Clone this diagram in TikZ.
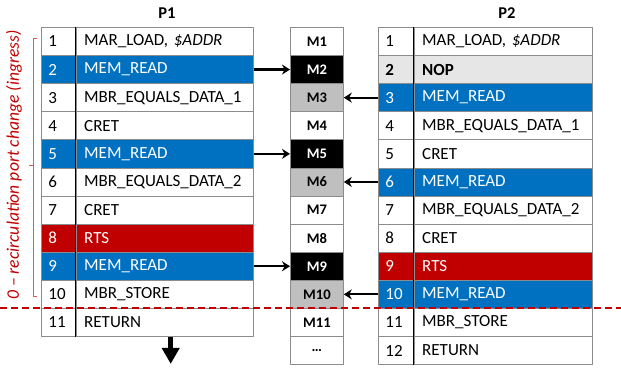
\documentclass[tikz,border=0pt]{standalone}
\usepackage{fontspec}
\setmainfont{Carlito}
\usetikzlibrary{arrows.meta}
\definecolor{opblue}{HTML}{0070C0}
\definecolor{opred}{HTML}{C00000}
\definecolor{nopgray}{HTML}{E7E6E6}
\definecolor{memgray}{HTML}{BFBFBF}
\definecolor{gridgray}{HTML}{8C8C8C}
\definecolor{bracered}{HTML}{E05A5A}

\tikzset{
	cell/.style={draw=gridgray, line width=0.8pt, minimum height=28.1pt, inner ysep=0pt, anchor=north west, align=left, font=\fontsize{17}{18}\selectfont},
	idx/.style={cell, text width=20pt, inner xsep=7pt},
	ins/.style={cell, text width=161pt, inner xsep=8pt},
	mcell/.style={cell, align=center, minimum width=53pt, inner xsep=0pt, font=\fontsize{14.6}{16}\selectfont\bfseries},
	link/.style={-{Stealth[length=8pt,width=10pt]}, line width=2.2pt},
}

\begin{document}
\begin{tikzpicture}[x=1pt, y=-1pt, line join=round]
	\useasboundingbox (0,0) rectangle (621,369);
	% program P1
	\node[font=\fontsize{16.5}{18}\selectfont\bfseries] (t1) at (167,13) {P1};
	\foreach \i/\op/\bg/\fg in {1/{MAR\_LOAD, \textit{\$ADDR}}/white/black, 2/MEM\_READ/opblue/white, 3/MBR\_EQUALS\_DATA\_1/white/black, 4/CRET/white/black, 5/MEM\_READ/opblue/white, 6/MBR\_EQUALS\_DATA\_2/white/black, 7/CRET/white/black, 8/RTS/opred/white, 9/MEM\_READ/opblue/white, 10/MBR\_STORE/white/black, 11/RETURN/white/black}
	{
		\node[idx, fill=\bg, text=\fg] (p1a\i) at (41,{27+(\i-1)*28.1}) {\i};
		\node[ins, fill=\bg, text=\fg] (p1b\i) at (p1a\i.north east) {\op};
	}
	\draw[line width=0.8pt] (p1a1.north east) -- (p1a11.south east);

	% memory slots
	\foreach \i/\lbl/\bg/\fg in {1/M1/white/black, 2/M2/black/white, 3/M3/memgray/black, 4/M4/white/black, 5/M5/black/white, 6/M6/memgray/black, 7/M7/white/black, 8/M8/white/black, 9/M9/black/white, 10/M10/memgray/black, 11/M11/white/black, 12/\ldots/white/black}
		\node[mcell, fill=\bg, text=\fg] (m\i) at (290,{27+(\i-1)*28.1}) {\lbl};

	% program P2
	\node[font=\fontsize{16.5}{18}\selectfont\bfseries] (t2) at (507,13) {P2};
	\foreach \i/\op/\bg/\fg in {1/{MAR\_LOAD, \textit{\$ADDR}}/white/black, 2/\textbf{NOP}/nopgray/black, 3/MEM\_READ/opblue/white, 4/MBR\_EQUALS\_DATA\_1/white/black, 5/CRET/white/black, 6/MEM\_READ/opblue/white, 7/MBR\_EQUALS\_DATA\_2/white/black, 8/CRET/white/black, 9/RTS/opred/white, 10/MEM\_READ/opblue/white, 11/MBR\_STORE/white/black, 12/RETURN/white/black}
	{
		\node[idx, text width=21pt, fill=\bg, text=\fg] (p2a\i) at (378,{27+(\i-1)*28.1}) {\ifnum\i=2 \textbf{\i}\else\i\fi};
		\node[ins, text width=162pt, fill=\bg, text=\fg] (p2b\i) at (p2a\i.north east) {\op};
	}
	\draw[line width=0.8pt] (p2a1.north east) -- (p2a12.south east);

	% memory accesses
	\foreach \i in {2,5,9}
		\draw[link] (p1b\i.east) -- (m\i.west);
	\foreach \i in {3,6,10}
		\draw[link] (p2a\i.west) -- (m\i.east);

	% P1 continues
	\draw[-{Triangle[length=16pt,width=17pt]}, line width=5pt] ([xshift=6pt]p1b11.south) -- ++(0,27);

	% ingress boundary
	\draw[opred, line width=2pt, dash pattern=on 7pt off 4pt] (0,{27+10*28.1}) -- (621,{27+10*28.1});

	% recirculation bracket
	\draw[bracered, line width=0.6pt] (37,38) -- (33,38) -- (33,296) -- (37,296)
		(33,165) -- (29,165);
	\node[rotate=90, text=opred, font=\fontsize{17.6}{19}\selectfont\itshape] (rlbl) at (14,165) {0 -- recirculation port change (ingress)};
\end{tikzpicture}
\end{document}
